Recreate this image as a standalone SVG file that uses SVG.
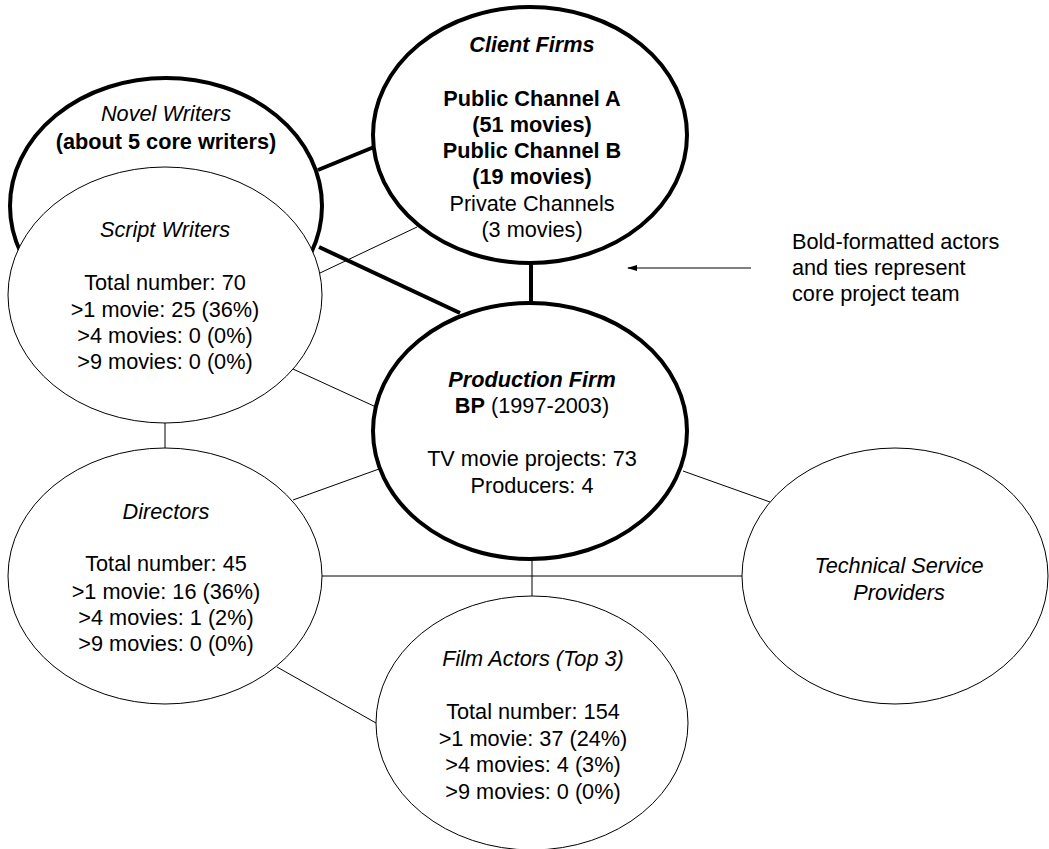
<svg xmlns="http://www.w3.org/2000/svg" width="1049" height="849" viewBox="0 0 1049 849">
<style>
text{font-family:"Liberation Sans",Arial,sans-serif;font-size:21.7px;fill:#000;text-anchor:middle}
.i{font-style:italic}
.b{font-weight:bold}
.l{text-anchor:start}
.thick{stroke:#000;stroke-width:4;fill:none}
.thin{stroke:#000;stroke-width:1;fill:none}
.nodeThick{stroke:#000;stroke-width:4;fill:#fff}
.nodeThin{stroke:#000;stroke-width:1;fill:#fff}
</style>
<defs>
<marker id="ah" markerWidth="10" markerHeight="6" refX="9" refY="3" orient="auto" markerUnits="userSpaceOnUse">
<path d="M0,0 L10,3 L0,6 Z" fill="#000"/>
</marker>
</defs>
<rect width="1049" height="849" fill="#fff"/>
<g id="connectors">
<line class="thick" x1="318" y1="170" x2="374" y2="147"/>
<line class="thick" x1="319" y1="247" x2="460" y2="313"/>
<line class="thick" x1="531" y1="262" x2="531" y2="304"/>
<line class="thin" x1="320" y1="273" x2="417" y2="227"/>
<line class="thin" x1="293" y1="369" x2="376" y2="407"/>
<line class="thin" x1="165" y1="422" x2="165" y2="449"/>
<line class="thin" x1="293" y1="500" x2="379" y2="469"/>
<line class="thin" x1="683" y1="471" x2="770" y2="502"/>
<line class="thin" x1="322" y1="576" x2="742" y2="576"/>
<line class="thin" x1="532" y1="559" x2="532" y2="596"/>
<line class="thin" x1="277" y1="667" x2="376" y2="723"/>
<line class="thin" x1="751" y1="268" x2="628" y2="268" marker-end="url(#ah)"/>
</g>
<g id="novel-writers">
<ellipse class="nodeThick" cx="166" cy="206" rx="156" ry="128"/>
<text class="i" x="166" y="121">Novel Writers</text>
<text class="b" x="166" y="149">(about 5 core writers)</text>
</g>
<g id="script-writers">
<ellipse class="nodeThin" cx="165" cy="295" rx="157" ry="128"/>
<text class="i" x="165" y="237">Script Writers</text>
<text x="165" y="290">Total number: 70</text>
<text x="165" y="317">&gt;1 movie: 25 (36%)</text>
<text x="165" y="343">&gt;4 movies: 0 (0%)</text>
<text x="165" y="369">&gt;9 movies: 0 (0%)</text>
</g>
<g id="client-firms">
<ellipse class="nodeThick" cx="530" cy="135" rx="157" ry="128"/>
<text class="i b" x="532" y="52">Client Firms</text>
<text class="b" x="532" y="106">Public Channel A</text>
<text class="b" x="532" y="132">(51 movies)</text>
<text class="b" x="532" y="158">Public Channel B</text>
<text class="b" x="532" y="184">(19 movies)</text>
<text x="532" y="211">Private Channels</text>
<text x="532" y="237">(3 movies)</text>
</g>
<g id="production-firm">
<ellipse class="nodeThick" cx="530" cy="431" rx="157" ry="128"/>
<text class="i b" x="532" y="387">Production Firm</text>
<text x="532" y="413"><tspan class="b">BP</tspan> (1997-2003)</text>
<text x="532" y="466">TV movie projects: 73</text>
<text x="532" y="493">Producers: 4</text>
</g>
<g id="directors">
<ellipse class="nodeThin" cx="165" cy="576" rx="157" ry="128"/>
<text class="i" x="166" y="519">Directors</text>
<text x="166" y="571">Total number: 45</text>
<text x="166" y="599">&gt;1 movie: 16 (36%)</text>
<text x="166" y="625">&gt;4 movies: 1 (2%)</text>
<text x="166" y="651">&gt;9 movies: 0 (0%)</text>
</g>
<g id="film-actors">
<ellipse class="nodeThin" cx="532" cy="723" rx="156" ry="127"/>
<text class="i" x="533" y="666">Film Actors (Top 3)</text>
<text x="533" y="719">Total number: 154</text>
<text x="533" y="746">&gt;1 movie: 37 (24%)</text>
<text x="533" y="772">&gt;4 movies: 4 (3%)</text>
<text x="533" y="799">&gt;9 movies: 0 (0%)</text>
</g>
<g id="technical-service-providers">
<ellipse class="nodeThin" cx="895" cy="576" rx="153" ry="128"/>
<text class="i" x="899" y="573">Technical Service</text>
<text class="i" x="899" y="600">Providers</text>
</g>
<g id="legend">
<text class="l" x="792" y="249">Bold-formatted actors</text>
<text class="l" x="792" y="275">and ties represent</text>
<text class="l" x="792" y="301">core project team</text>
</g>
</svg>
